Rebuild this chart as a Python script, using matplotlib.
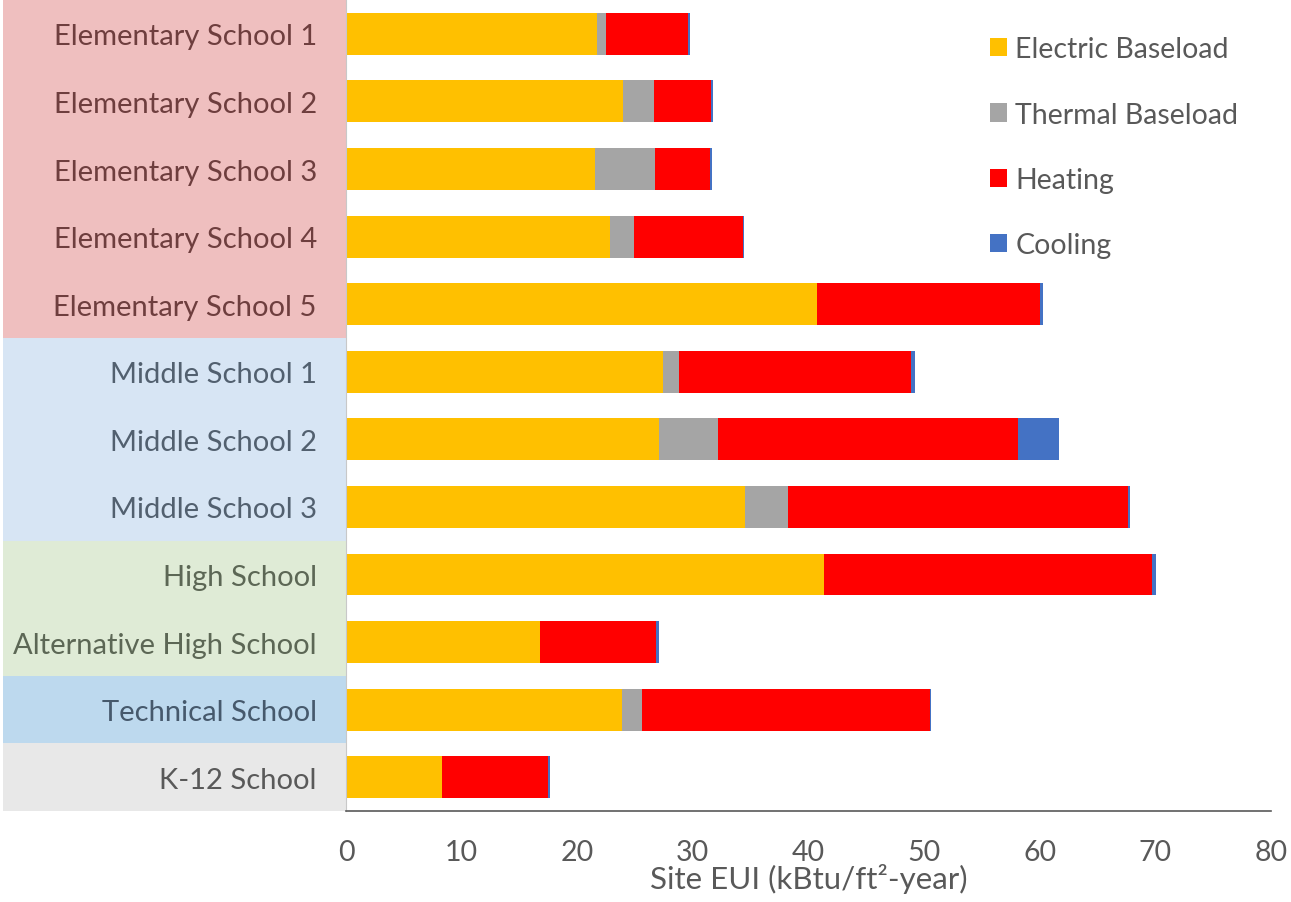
import numpy as np
import matplotlib
matplotlib.use("Agg")
import matplotlib.pyplot as plt
from matplotlib.patches import Rectangle
from matplotlib.transforms import blended_transform_factory

schools = ["Elementary School 1", "Elementary School 2", "Elementary School 3",
           "Elementary School 4", "Elementary School 5", "Middle School 1",
           "Middle School 2", "Middle School 3", "High School",
           "Alternative High School", "Technical School", "K-12 School"]

electric = [21.7, 24.0, 21.5, 22.8, 40.7, 27.4, 27.1, 34.5, 41.3, 16.8, 23.9, 8.3]
thermal = [0.8, 2.6, 5.2, 2.1, 0.0, 1.4, 5.1, 3.7, 0.0, 0.0, 1.7, 0.0]
heating = [7.1, 5.0, 4.8, 9.4, 19.3, 20.1, 25.9, 29.4, 28.4, 10.0, 24.9, 9.2]
cooling = [0.15, 0.12, 0.12, 0.12, 0.25, 0.28, 3.55, 0.24, 0.33, 0.28, 0.08, 0.14]

series_names = ["Electric Baseload", "Thermal Baseload", "Heating", "Cooling"]
series_colors = ["#FFC000", "#A5A5A5", "#FF0000", "#4472C4"]

# label background groups: (number of rows, fill colour, text colour)
group_sizes = [5, 3, 2, 1, 1]
group_fills = ["#EFBFBF", "#D7E5F4", "#DFEBD6", "#BDD9EE", "#E8E8E8"]
group_text = ["#6E3E3E", "#52606F", "#5C6755", "#46596C", "#595959"]

plt.rcParams['font.family'] = ['Lato', 'DejaVu Sans']
FS = 20.5

fig = plt.figure(figsize=(12.91, 9.03), dpi=100)
ax = fig.add_axes([0.268, 0.1008, 0.7165, 0.898])

y = np.arange(len(schools))
left = np.zeros(len(schools))
for vals, name, col in zip([electric, thermal, heating, cooling], series_names, series_colors):
    ax.barh(y, vals, left=left, height=0.62, color=col, label=name, linewidth=0)
    left += np.array(vals)

ax.set_ylim(len(schools) - 0.5, -0.5)
ax.set_xlim(0, 80)
ax.set_xticks(np.arange(0, 81, 10))
ax.tick_params(axis='x', length=0, labelsize=FS, labelcolor="#595959", pad=20)
ax.tick_params(axis='y', length=0, labelsize=21, pad=21)
ax.set_yticks(y)
ax.set_yticklabels(schools)

# colour each label by its group
row_colors = []
for n, c in zip(group_sizes, group_text):
    row_colors += [c] * n
for lbl, c in zip(ax.get_yticklabels(), row_colors):
    lbl.set_color(c)

ax.set_xlabel("Site EUI (kBtu/ft²-year)", fontsize=22.5, color="#595959")
ax.xaxis.set_label_coords(0.5, -0.064)

for s in ["top", "right"]:
    ax.spines[s].set_visible(False)
ax.spines["bottom"].set_color("#595959")
ax.spines["bottom"].set_linewidth(1.2)
ax.spines["left"].set_color("#C8C8C8")
ax.spines["left"].set_linewidth(0.8)

# background bands behind the category labels
tr = blended_transform_factory(fig.transFigure, ax.transData)
start = -0.5
for n, fc in zip(group_sizes, group_fills):
    rect = Rectangle((0.002, start), 0.266, n, transform=tr, facecolor=fc,
                     edgecolor="none", zorder=-1)
    fig.add_artist(rect)
    start += n

ax.legend(loc="upper left", bbox_to_anchor=(0.668, 0.987), frameon=False,
          fontsize=FS, labelcolor="#595959", handlelength=0.6, handleheight=0.6,
          handletextpad=0.3, labelspacing=1.38)

fig.savefig("out.png", dpi=100)
